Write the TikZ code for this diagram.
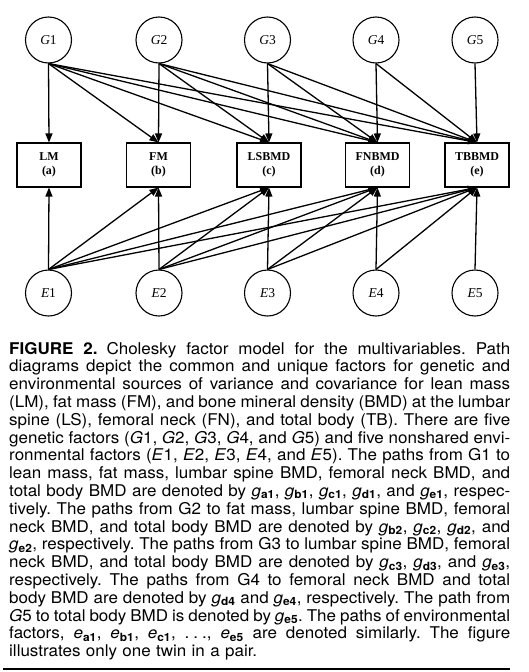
\documentclass[tikz,border=0pt]{standalone}
\usepackage{fontspec}
\setmainfont{Liberation Serif}
\newfontfamily\capfont[FakeStretch=1.05]{TeX Gyre Heros}
\usetikzlibrary{arrows.meta}
\newcommand\gsub[1]{\textit{g}\textsubscript{\bfseries #1}}
\newcommand\esub[1]{\textit{e}\textsubscript{\bfseries #1}}
\newcommand\capline[1]{\makebox[501pt][s]{#1}\par}
\begin{document}
\begin{tikzpicture}[x=1pt,y=-1pt,
  latent/.style={circle, draw, line width=1.1pt, minimum size=46pt, inner sep=0pt,
    font=\fontsize{13.5}{13.5}\selectfont},
  obsbox/.style={draw, line width=1.1pt, minimum width=64pt, minimum height=44pt,
    inner sep=1pt, align=center, font=\fontsize{12}{14}\selectfont\bfseries},
  pathar/.style={line width=1.3pt, -{Triangle[length=9pt,width=7pt]}}]
\useasboundingbox (0,0) rectangle (528,672);
\fill[white] (0,0) rectangle (528,672);

% genetic factors
\node[latent] (G1) at (48.5,40) {\textit{G}1};
\node[latent] (G2) at (159,40) {\textit{G}2};
\node[latent] (G3) at (267.5,40) {\textit{G}3};
\node[latent] (G4) at (376,40) {\textit{G}4};
\node[latent] (G5) at (475,40) {\textit{G}5};

% observed variables
\node[obsbox] (B1) at (49,165) {LM\\(a)};
\node[obsbox] (B2) at (158.5,165) {FM\\(b)};
\node[obsbox] (B3) at (269,165) {LSBMD\\(c)};
\node[obsbox] (B4) at (377.5,165) {FNBMD\\(d)};
\node[obsbox] (B5) at (477,165) {TBBMD\\(e)};

% environmental factors
\node[latent] (E1) at (48.5,293) {\textit{E}1};
\node[latent] (E2) at (159,293) {\textit{E}2};
\node[latent] (E3) at (267.5,293) {\textit{E}3};
\node[latent] (E4) at (376,293) {\textit{E}4};
\node[latent] (E5) at (475,293) {\textit{E}5};

% Cholesky paths
\foreach \i in {1,...,5}{
  \foreach \j in {\i,...,5}{
    \draw[pathar] (G\i.south) -- (B\j.north);
    \draw[pathar] (E\i.north) -- (B\j.south);
  }
}

% caption
\node[anchor=base west, inner sep=0pt] (cap) at (9,354) {\parbox[t]{501pt}{%
\capfont\fontsize{16.2}{17.8}\selectfont\frenchspacing\parindent=0pt
\lineskiplimit=-20pt\lineskip=0pt
\spaceskip=0.22em plus 0.6em minus 0.06em
\capline{\textbf{FIGURE 2.}\hspace{9pt}Cholesky factor model for the multivariables. Path}
\capline{diagrams depict the common and unique factors for genetic and}
\capline{environmental sources of variance and covariance for lean mass}
\capline{(LM), fat mass (FM), and bone mineral density (BMD) at the lumbar}
\capline{spine (LS), femoral neck (FN), and total body (TB). There are five}
\capline{genetic factors (\textit{G}1, \textit{G}2, \textit{G}3, \textit{G}4, and \textit{G}5) and five nonshared envi-}
\capline{ronmental factors (\textit{E}1, \textit{E}2, \textit{E}3, \textit{E}4, and \textit{E}5). The paths from G1 to}
\capline{lean mass, fat mass, lumbar spine BMD, femoral neck BMD, and}
\capline{total body BMD are denoted by \gsub{a1}, \gsub{b1}, \gsub{c1}, \gsub{d1}, and \gsub{e1}, respec-}
\capline{tively. The paths from G2 to fat mass, lumbar spine BMD, femoral}
\capline{neck BMD, and total body BMD are denoted by \gsub{b2}, \gsub{c2}, \gsub{d2}, and}
\capline{\gsub{e2}, respectively. The paths from G3 to lumbar spine BMD, femoral}
\capline{neck BMD, and total body BMD are denoted by \gsub{c3}, \gsub{d3}, and \gsub{e3},}
\capline{respectively. The paths from G4 to femoral neck BMD and total}
\capline{body BMD are denoted by \gsub{d4} and \gsub{e4}, respectively. The path from}
\capline{\textit{G}5 to total body BMD is denoted by \gsub{e5}. The paths of environmental}
\capline{factors, \esub{a1}, \esub{b1}, \esub{c1}, .\kern4pt.\kern4pt., \esub{e5} are denoted similarly. The figure}
\spaceskip=0.33em\relax
illustrates only one twin in a pair.}};

% bottom rule
\draw[line width=2pt] (3,669) -- (510,669);
\end{tikzpicture}
\end{document}
